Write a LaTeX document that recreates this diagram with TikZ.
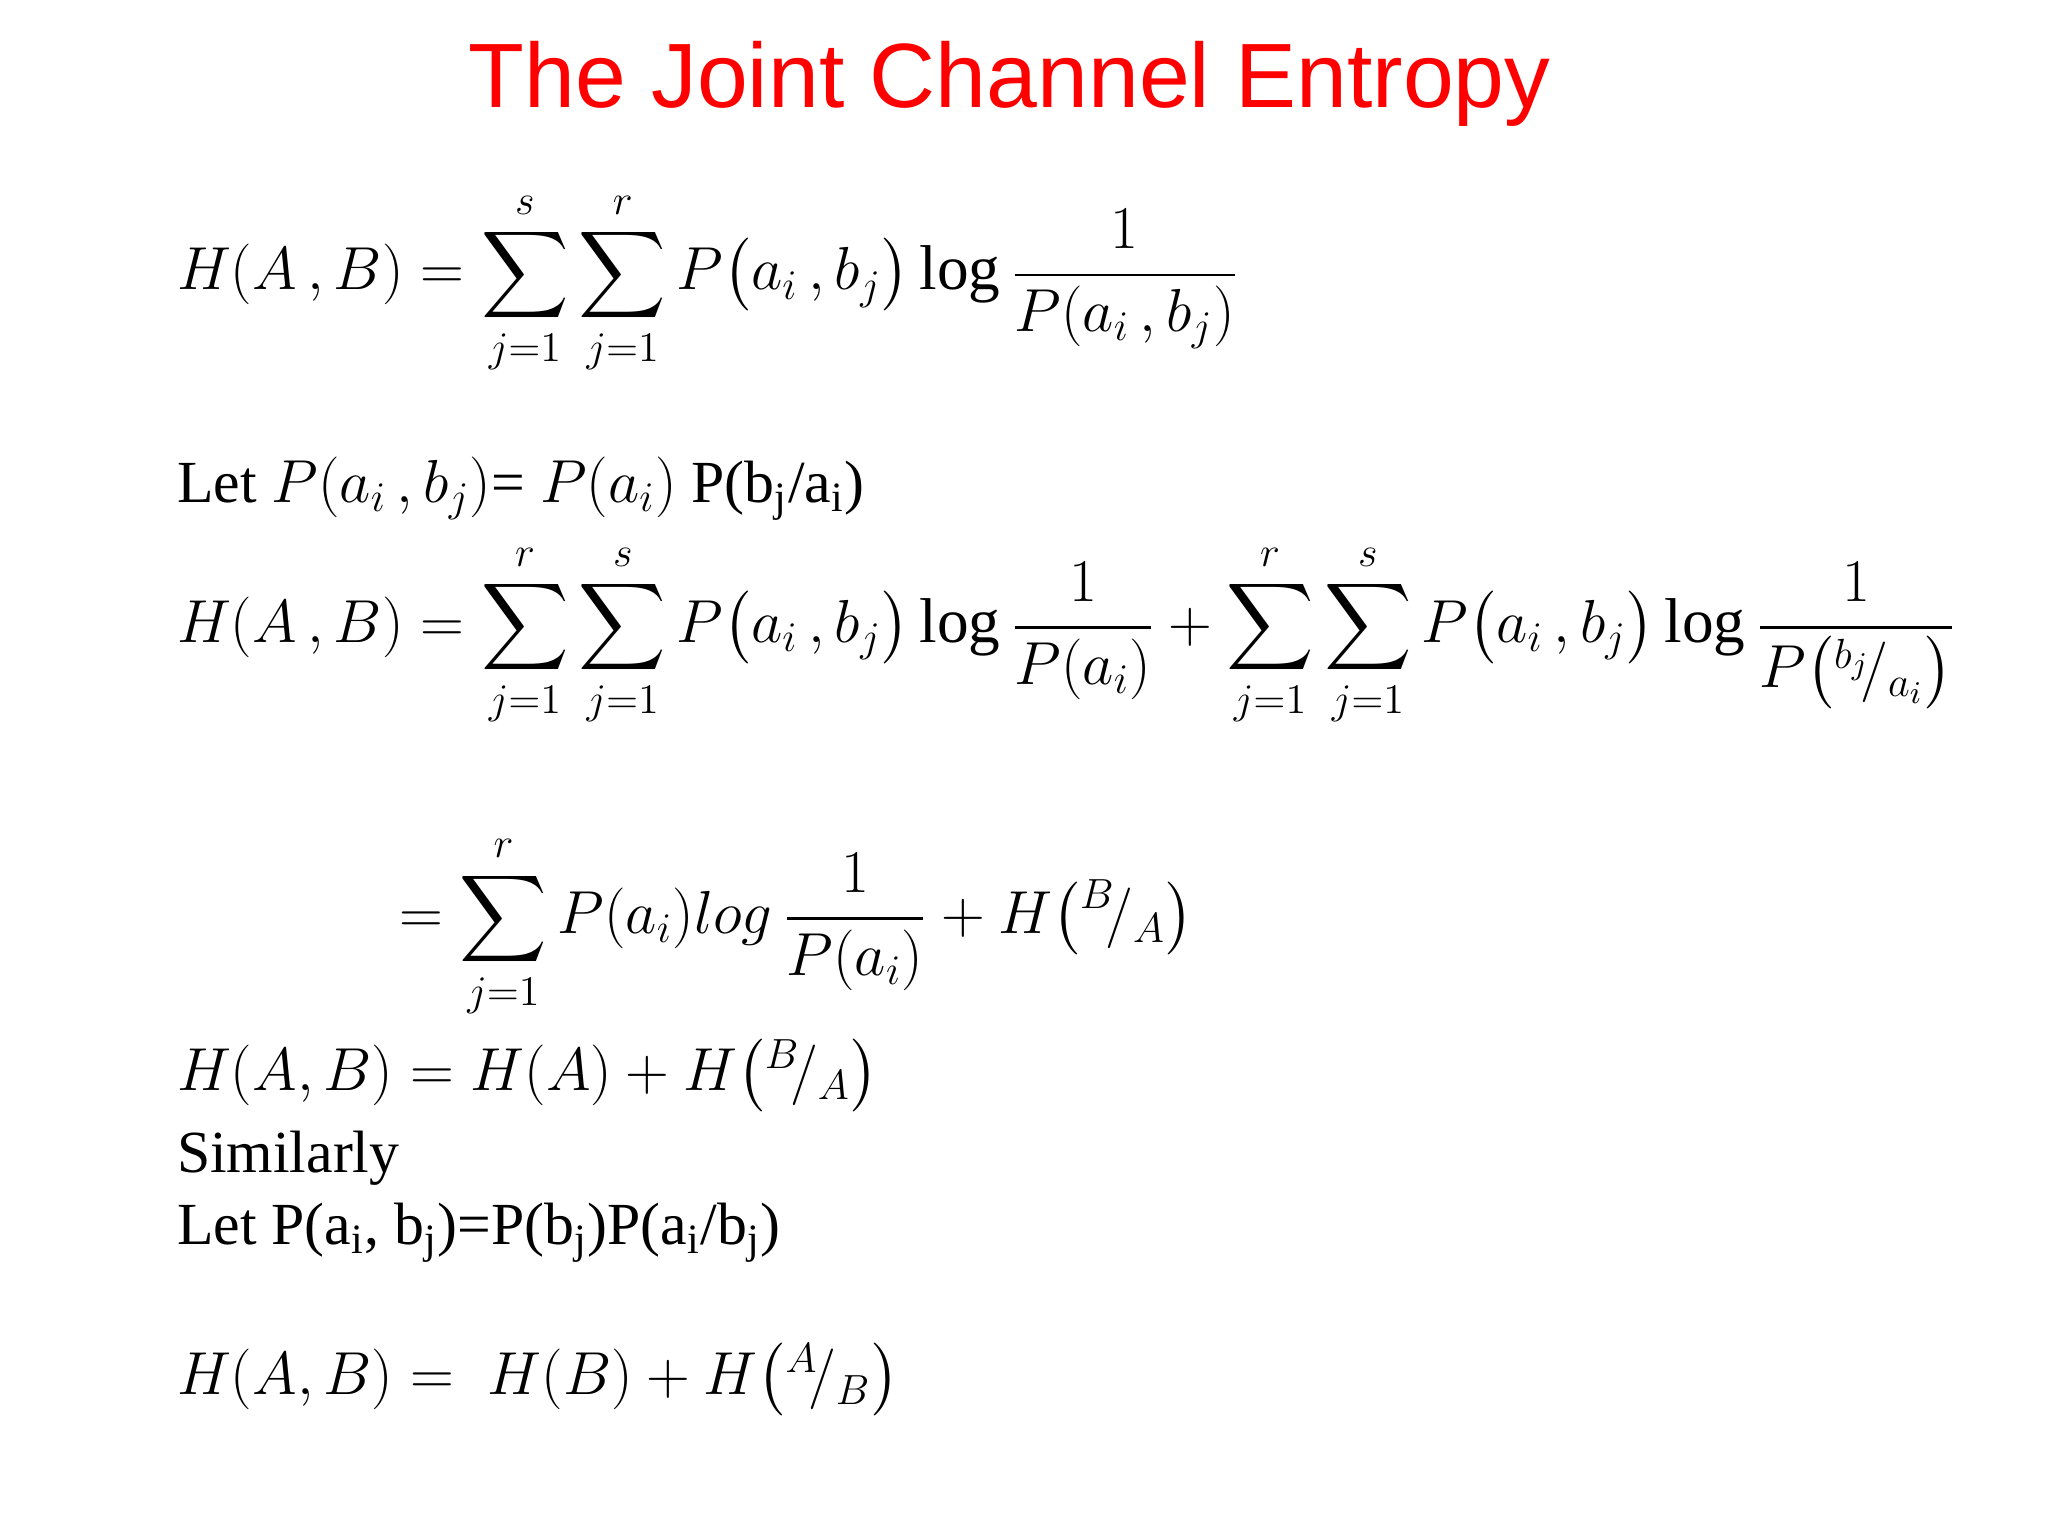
\documentclass[tikz,border=0pt]{standalone}
\usepackage{amsmath}
\usepackage{fontspec}
\newfontfamily\titlefont{Liberation Sans}
\setmainfont{Liberation Serif}
\begin{document}
\begin{tikzpicture}[x=0.01306cm,y=-0.01306cm,
  eq/.style={anchor=base west,inner sep=0pt,font=\fontsize{18}{22}\selectfont},
  txt/.style={anchor=base west,inner sep=0pt,font=\fontsize{17}{21}\selectfont}]
\useasboundingbox (0,0) rectangle (1568,1176);
\node[anchor=base,inner sep=0pt,text=red,font=\titlefont\fontsize{26}{30}\selectfont] (title) at (773,82) {The Joint Channel Entropy};
\node[eq] (e1) at (135,222) {$\displaystyle H(A\,,B)=\sum_{j=1}^{s}\sum_{j=1}^{r}P\bigl(a_i\,,b_j\bigr)\log\frac{1}{P(a_i\,,b_j)}$};
\node[txt] (let1) at (135,385) {Let $P(a_i\,,b_j)$= $P(a_i)$ P(b\textsubscript{j}/a\textsubscript{i})};
\node[eq] (e2) at (135,492) {$\displaystyle H(A\,,B)=\sum_{j=1}^{r}\sum_{j=1}^{s}P\bigl(a_i\,,b_j\bigr)\log\frac{1}{P(a_i)}+\sum_{j=1}^{r}\sum_{j=1}^{s}P\bigl(a_i\,,b_j\bigr)\log\frac{1}{P\bigl({}^{b_j}\!/_{a_i}\bigr)}$};
\node[eq] (e3) at (305,715) {$\displaystyle =\sum_{j=1}^{r}P(a_i)log\,\frac{1}{P(a_i)}+H\bigl({}^{B}\!/_{A}\bigr)$};
\node[eq] (e4) at (135,835) {$H(A,B)=H(A)+H\bigl({}^{B}\!/_{A}\bigr)$};
\node[txt] (sim) at (135,898) {Similarly};
\node[txt] (let2) at (135,953) {Let P(a\textsubscript{i}, b\textsubscript{j})=P(b\textsubscript{j})P(a\textsubscript{i}/b\textsubscript{j})};
\node[eq] (e5) at (135,1068) {$H(A,B)=\;H(B)+H\bigl({}^{A}\!/_{B}\bigr)$};
\end{tikzpicture}
\end{document}
